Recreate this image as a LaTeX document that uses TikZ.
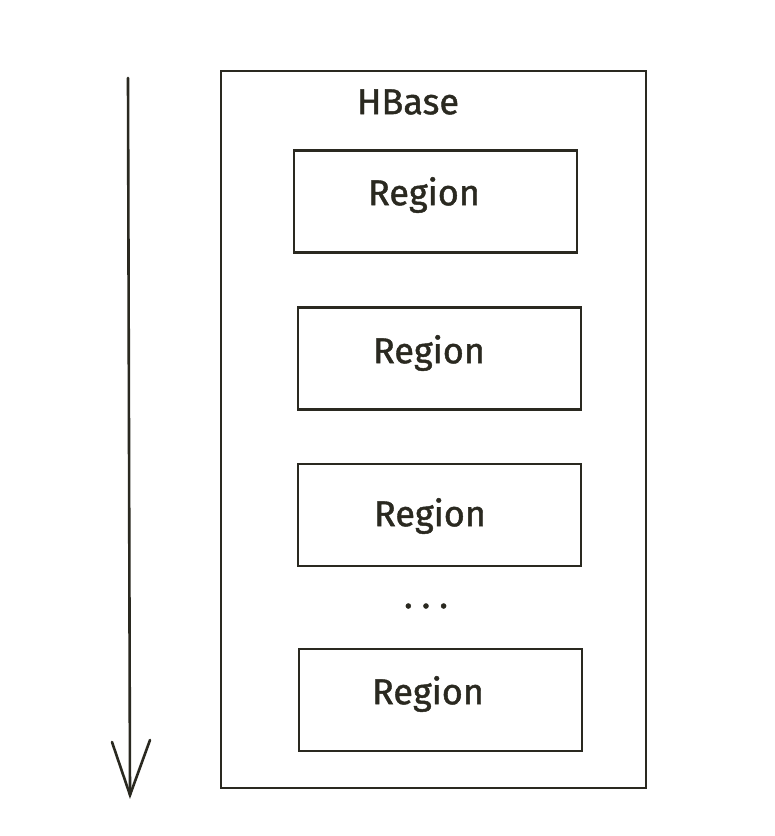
\documentclass[tikz,border=0pt]{standalone}
\usepackage{fontspec}
\setmainfont{Fira Sans}
\newfontfamily\handfont[FakeBold=1.2]{Fira Sans}
\definecolor{ink}{HTML}{2A2920}
\begin{document}
\begin{tikzpicture}[x=1pt,y=-1pt,
  region/.style={draw=ink,line width=2.6pt,minimum width=283pt,minimum height=102pt,inner sep=0pt},
  outer/.style={draw=ink,line width=2.6pt},
  lbl/.style={font=\handfont\fontsize{36}{38}\selectfont,text=ink,inner sep=0pt}]
\useasboundingbox (0,0) rectangle (775,836);
\fill[white] (0,0) rectangle (775,836);
\node[outer,minimum width=425pt,minimum height=717pt,inner sep=0pt] (hbase) at (433.5,429.5) {};
\node[lbl] (title) at (408,102) {HBase};
\node[region] (r1) at (435.5,201.5) {};
\node[lbl] (t1) at (424,195) {Region};
\node[region] (r2) at (439.5,358.5) {};
\node[lbl] (t2) at (429,353) {Region};
\node[region] (r3) at (439.5,515) {};
\node[lbl] (t3) at (430,516) {Region};
\node[region] (r4) at (440.5,700) {};
\node[lbl] (t4) at (428,694) {Region};
\node[lbl] (dots) at (426,606) {.\hspace{9pt}.\hspace{9pt}.};
\coordinate (astart) at (128,78);
\coordinate (aend) at (130,795);
\draw[ink,line width=2.6pt,line cap=round] (astart) -- (aend);
\draw[ink,line width=2.6pt,line cap=round,line join=miter] (112,742) -- (aend) -- (150,740);
\end{tikzpicture}
\end{document}
